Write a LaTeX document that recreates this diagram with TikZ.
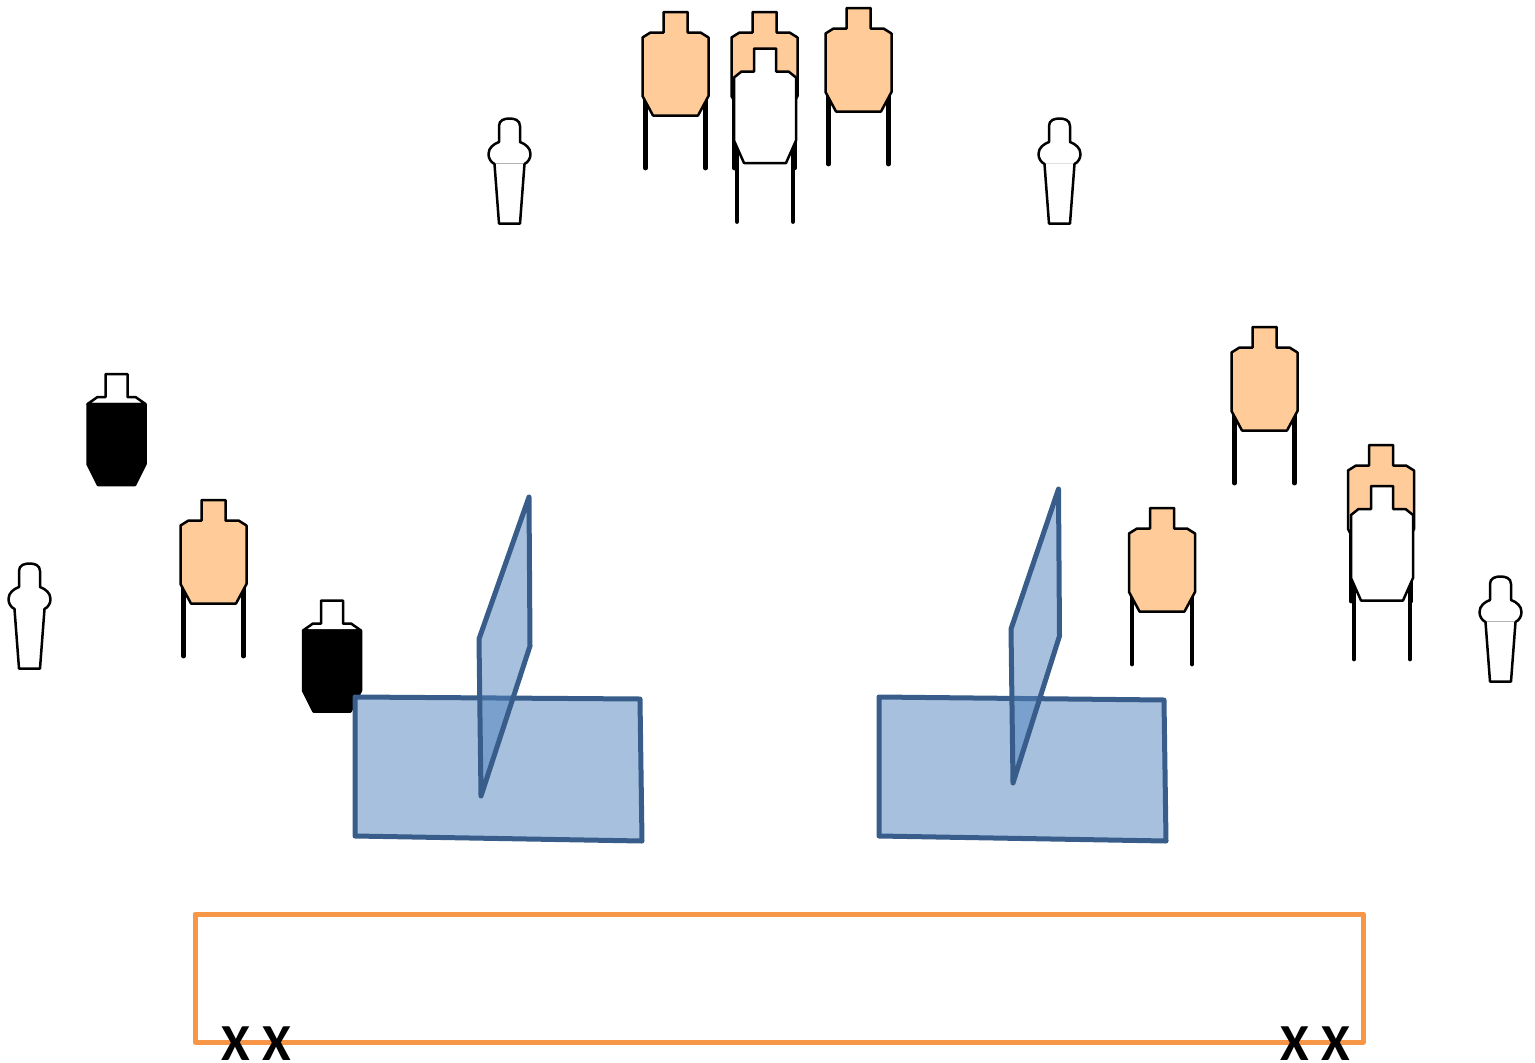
\documentclass[tikz,border=0pt]{standalone}
\usepackage{fontspec}
\setmainfont{Carlito}
\definecolor{skin}{HTML}{FFCC99}
\definecolor{panelline}{HTML}{385D8A}
\definecolor{panelfill}{HTML}{A7C0DE}
\definecolor{panelglass}{HTML}{4F81BD}
\definecolor{rangeline}{HTML}{F79646}
\tikzset{
  x=1pt,y=-1pt,
  outline/.style={draw=black,line width=2.5pt,line join=round},
  leg/.style={draw=black,line width=4.8pt,line cap=round},
  plate/.style={draw=panelline,fill=panelfill,line width=5pt,line join=round},
  glass/.style={draw=panelline,fill=panelglass,fill opacity=.5,line width=5pt,line join=round},
  mark x/.style={font=\bfseries\fontsize{52}{52}\selectfont,inner sep=0pt,anchor=base,text=black},
  pics/orangetarget/.style={code={
    \draw[leg] (-30,84) -- (-30,156) (30,84) -- (30,156);
    \draw[outline,fill=skin] (-12,0) -- (12,0) -- (12,20.5) -- (25,20.5) -- (33,25.5) -- (33,84) -- (22.5,103.5) -- (-22.5,103.5) -- (-33,84) -- (-33,25.5) -- (-25,20.5) -- (-12,20.5) -- cycle;
  }},
  pics/whitetarget/.style={code={
    \draw[leg] (-28,92) -- (-28,173) (28,92) -- (28,173);
    \draw[outline,fill=white] (-11,0) -- (11,0) -- (11,23) -- (23.5,23) -- (31,29) -- (31,92) -- (21,114.5) -- (-21,114.5) -- (-31,92) -- (-31,29) -- (-23.5,23) -- (-11,23) -- cycle;
  }},
  pics/blacktarget/.style={code={
    \draw[outline,fill=white] (-11,0) -- (11,0) -- (11,23) -- (19,23) -- (29,30) -- (-29,30) -- (-19,23) -- (-11,23) -- cycle;
    \draw[outline,fill=black] (-29,30) -- (29,30) -- (29,90) -- (18.5,111) -- (-18.5,111) -- (-29,90) -- cycle;
  }},
  pics/person/.style={code={
    \draw[outline,fill=white] (-10.5,8) .. controls (-10.5,2) and (-5,0.5) .. (0,0.5) .. controls (5,0.5) and (10.5,2) .. (10.5,8) -- (10.5,24) .. controls (16,26) and (21,30) .. (21,36) .. controls (21,40) and (19,44) .. (15,46) -- (10.5,105.5) -- (-10.5,105.5) -- (-15,46) .. controls (-19,44) and (-21,40) .. (-21,36) .. controls (-21,30) and (-16,26) .. (-10.5,24) -- cycle;
  }},
  personrule/.style={draw=black!30,line width=1pt}
}
\begin{document}
\begin{tikzpicture}
\useasboundingbox (0,0) rectangle (1535,1063);
% top group
\pic at (675.5,12) {orangetarget};
\pic at (764.5,12) {orangetarget};
\pic at (765,48.5) {whitetarget};
\pic at (858.5,8) {orangetarget};
\pic at (509.5,118) {person};
\draw[personrule] (496,163) -- (523,163);
\pic at (1059.5,118) {person};
\draw[draw=black!12,line width=1pt] (1046,163) -- (1073,163);
% left group
\pic at (116.5,374) {blacktarget};
\pic at (213.5,500) {orangetarget};
\pic at (29.5,563) {person};
\pic at (332,600.5) {blacktarget};
% right group
\pic at (1264.5,327) {orangetarget};
\pic at (1162,508) {orangetarget};
\pic at (1381,445) {orangetarget};
\pic at (1382,486) {whitetarget};
\pic at (1500.5,576) {person};
\draw[personrule] (1487,621) -- (1514,621);
% barricades
\draw[plate] (355,697) -- (640,699) -- (642,841) -- (355,836) -- cycle;
\draw[glass] (529,497) -- (530,646) -- (481,796) -- (479,639) -- cycle;
\draw[plate] (879,697) -- (1164,700) -- (1166,841) -- (879,836) -- cycle;
\draw[glass] (1058.5,489) -- (1059.5,636) -- (1013,783) -- (1011,629) -- cycle;
% shooting box
\draw[draw=rangeline,line width=5pt,line join=round] (195,914) rectangle (1363,1042);
\node[mark x] (xa) at (235.5,1060) {X};
\node[mark x] (xb) at (276.5,1060) {X};
\node[mark x] (xc) at (1294.5,1060) {X};
\node[mark x] (xd) at (1335.5,1060) {X};
\end{tikzpicture}
\end{document}
